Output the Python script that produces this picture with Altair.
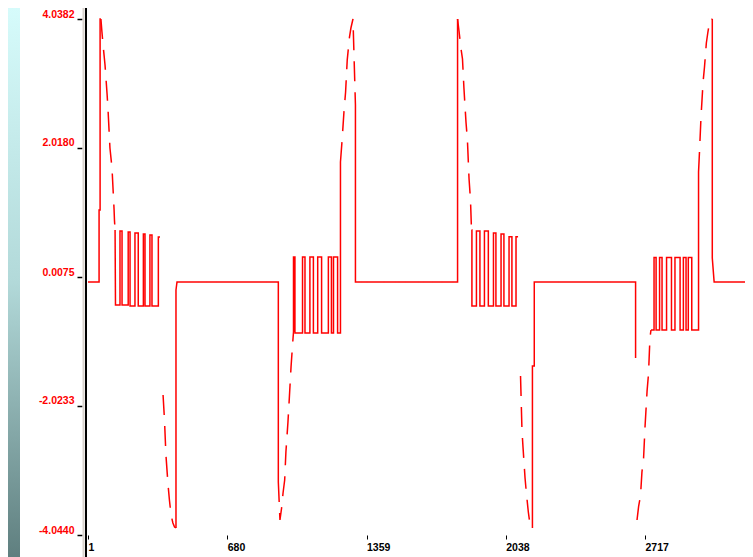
import altair as alt
import pandas as pd

# ---- waveform data (sample index, value) ----
s1_x = [1, 55, 55, 60, 60, 64]
s1_y = [-0.081, -0.081, 1.047, 1.047, 4.038, 4.038]
s2_x = [64, 69, 74, 84, 94, 99, 108, 118, 128, 130, 133]
s2_y = [4.038, 3.835, 3.647, 3.318, 2.864, 2.597, 2.018, 1.705, 1.062, 0.890, 0.733]
s3_x = [133, 135, 157, 157, 167, 167, 197, 197, 206, 206, 230, 230, 246, 246,
        271, 271, 279, 279, 303, 303, 313, 313, 344, 344, 352]
s3_y = [0.733, -0.441, -0.441, 0.718, 0.718, -0.441, -0.441, 0.702, 0.702, -0.457,
        -0.457, 0.686, 0.686, -0.457, -0.457, 0.671, 0.671, -0.457, -0.457, 0.655,
        0.655, -0.457, -0.457, 0.624, 0.624]
s4_x = [367, 374, 381, 391, 398, 406, 415, 423, 430]
s4_y = [-1.851, -2.243, -2.791, -3.245, -3.496, -3.731, -3.856, -3.919, -3.934]
s5_x = [430, 430, 435, 929, 929]
s5_y = [-3.934, -0.206, -0.081, -0.081, -3.214]
s6_x = [929, 937, 945, 952, 960, 966, 976, 981, 991, 998, 1003]
s6_y = [-3.214, -3.809, -3.621, -3.386, -3.183, -2.744, -2.274, -1.992, -1.413, -1.084, -0.864]
s7_x = [1003, 1003, 1010, 1010, 1047, 1047, 1059, 1059, 1083, 1083, 1100, 1100, 1121,
        1121, 1140, 1140, 1173, 1173, 1188, 1188, 1198, 1198, 1218, 1218, 1232, 1232]
s7_y = [-0.864, 0.310, 0.310, -0.880, -0.880, 0.310, 0.310, -0.880, -0.880, 0.310,
        0.310, -0.880, -0.880, 0.310, 0.310, -0.880, -0.880, 0.310, 0.310, -0.880,
        -0.880, 0.310, 0.310, -0.880, -0.880, 1.798]
s8_x = [1232, 1240, 1249, 1257, 1265, 1276, 1283, 1293, 1305]
s8_y = [1.798, 2.143, 2.582, 2.895, 3.396, 3.756, 3.897, 4.038, 2.691]
s9_x = [1305, 1305, 1803, 1803]
s9_y = [2.691, -0.081, -0.081, 4.038]
s10_x = [1803, 1810, 1820, 1827, 1834, 1844, 1851, 1859, 1866, 1871]
s10_y = [4.038, 3.850, 3.568, 3.412, 2.957, 2.425, 2.143, 1.532, 1.203, 0.733]
s11_x = [1871, 1873, 1873, 1895, 1895, 1912, 1912, 1934, 1934, 1953, 1953, 1978, 1978,
         1990, 1990, 2015, 2015, 2029, 2029, 2054, 2054, 2068, 2068, 2088, 2088, 2098]
s11_y = [0.733, 0.733, -0.457, -0.457, 0.718, 0.718, -0.457, -0.457, 0.718, 0.718,
         -0.457, -0.457, 0.686, 0.686, -0.457, -0.457, 0.671, 0.671, -0.457, -0.457,
         0.628, 0.628, -0.457, -0.457, 0.628, 0.628]
s12_x = [2110, 2117, 2122, 2132, 2138, 2148, 2156, 2164, 2168]
s12_y = [-1.553, -2.399, -2.665, -3.151, -3.370, -3.684, -3.872, -3.934, -3.934]
s13_x = [2168, 2168, 2177, 2177, 2671, 2671]
s13_y = [-3.934, -1.397, -1.397, -0.081, -0.081, -1.272]
s14_x = [2678, 2686, 2695, 2702, 2710, 2717, 2727, 2734, 2741, 2746]
s14_y = [-3.809, -3.590, -3.433, -3.057, -2.838, -2.352, -1.789, -1.522, -0.958, -0.833]
s15_x = [2746, 2761, 2761, 2771, 2771, 2788, 2788, 2800, 2800, 2822, 2822, 2846, 2846,
         2863, 2863, 2888, 2888, 2904, 2904, 2917, 2917, 2928, 2928, 2945, 2945, 2978, 2978]
s15_y = [-0.833, -0.833, 0.303, 0.303, -0.833, -0.833, 0.303, 0.303, -0.833, -0.833,
         0.303, 0.303, -0.833, -0.833, 0.303, 0.303, -0.833, -0.833, 0.303, 0.303,
         -0.833, -0.833, 0.303, 0.303, -0.833, -0.833, 1.642]
s16_x = [2978, 2983, 2990, 3000, 3007, 3016, 3023, 3034, 3045]
s16_y = [1.642, 1.987, 2.503, 3.051, 3.286, 3.662, 3.819, 4.038, 4.038]
s17_x = [3045, 3045, 3054, 3244]
s17_y = [4.038, 0.295, -0.081, -0.081]

segments = [
    ("solid", s1_x, s1_y), ("dash", s2_x, s2_y), ("solid", s3_x, s3_y),
    ("dash", s4_x, s4_y), ("solid", s5_x, s5_y), ("dash", s6_x, s6_y),
    ("solid", s7_x, s7_y), ("dash", s8_x, s8_y), ("solid", s9_x, s9_y),
    ("dash", s10_x, s10_y), ("solid", s11_x, s11_y), ("dash", s12_x, s12_y),
    ("solid", s13_x, s13_y), ("dash", s14_x, s14_y), ("solid", s15_x, s15_y),
    ("dash", s16_x, s16_y), ("solid", s17_x, s17_y),
]

# ---- axis ticks ----
x_ticks = [1, 680, 1359, 2038, 2717]
y_ticks = [4.0382, 2.0177, -0.0029, -2.0234, -4.044]
y_tick_labels = ["4.0382", "2.0180", "0.0075", "-2.0233", "-4.0440"]

rows = []
for sid, (style, xs, ys) in enumerate(segments):
    for j, (xv, yv) in enumerate(zip(xs, ys)):
        rows.append({"seg": sid, "style": style, "x": xv, "v": yv, "i": j})
df = pd.DataFrame(rows)

label_expr = (
    f"datum.value > 3 ? '{y_tick_labels[0]}' : datum.value > 1 ? '{y_tick_labels[1]}' : "
    f"datum.value > -1 ? '{y_tick_labels[2]}' : datum.value > -3 ? '{y_tick_labels[3]}' : "
    f"'{y_tick_labels[4]}'"
)

W, H = 659, 527
FONT = "Liberation Sans"

x_axis = alt.Axis(values=x_ticks, format="d", title=None, grid=False, domain=False,
                  labelAlign="left", labelBaseline="top", labelFont=FONT,
                  labelFontSize=10.5, labelFontWeight="bold", labelColor="black",
                  tickColor="black", tickSize=4, tickWidth=1, labelPadding=3,
                  labelFlush=False, labelOverlap=False)
y_axis = alt.Axis(values=y_ticks, title=None, grid=False, domain=False, offset=4,
                  labelExpr=label_expr, labelFont=FONT, labelFontSize=10.5,
                  labelFontWeight="bold", labelColor="#ff0000", labelBaseline="bottom",
                  labelOffset=0, tickColor="black", tickSize=5, tickWidth=1.5,
                  labelPadding=3, labelFlush=False, labelOverlap=False)

line = alt.Chart(df).mark_line(color="#ff0000", strokeWidth=1.5, clip=True,
                               strokeCap="butt").encode(
    x=alt.X("x:Q", scale=alt.Scale(domain=[-8.75, 3204.5], nice=False, zero=False),
            axis=x_axis),
    y=alt.Y("v:Q", scale=alt.Scale(domain=[-4.044, 4.2105], nice=False, zero=False),
            axis=y_axis),
    detail="seg:N",
    order="i:Q",
    strokeDash=alt.StrokeDash("style:N", legend=None,
                              scale=alt.Scale(domain=["solid", "dash"],
                                              range=[[1, 0], [20, 11]])),
)

one = pd.DataFrame({"k": [0]})
strip = alt.Chart(one).mark_rect(
    color=alt.LinearGradient(
        gradient="linear", x1=0, x2=0, y1=0, y2=1,
        stops=[alt.GradientStop(offset=0, color="#d6fbfb"),
               alt.GradientStop(offset=0.5, color="#b2d9d9"),
               alt.GradientStop(offset=1, color="#5f7f7f")])
).encode(x=alt.value(-78), x2=alt.value(-66), y=alt.value(0), y2=alt.value(H + 22))

gray_rule = alt.Chart(one).mark_rule(color="#d9d3cd", strokeWidth=2).encode(
    x=alt.value(-2.5), y=alt.value(0), y2=alt.value(H + 22))
axis_rule = alt.Chart(one).mark_rule(color="black", strokeWidth=2).encode(
    x=alt.value(0), y=alt.value(0), y2=alt.value(H + 22))

chart = alt.layer(strip, gray_rule, axis_rule, line).properties(
    width=W, height=H,
    autosize=alt.AutoSizeParams(type="none"),
    padding={"left": 78, "top": 0, "right": 0, "bottom": 22},
    background="white",
).configure_view(stroke=None)

chart.save("out.html", embed_options={"renderer": "svg", "actions": False})
